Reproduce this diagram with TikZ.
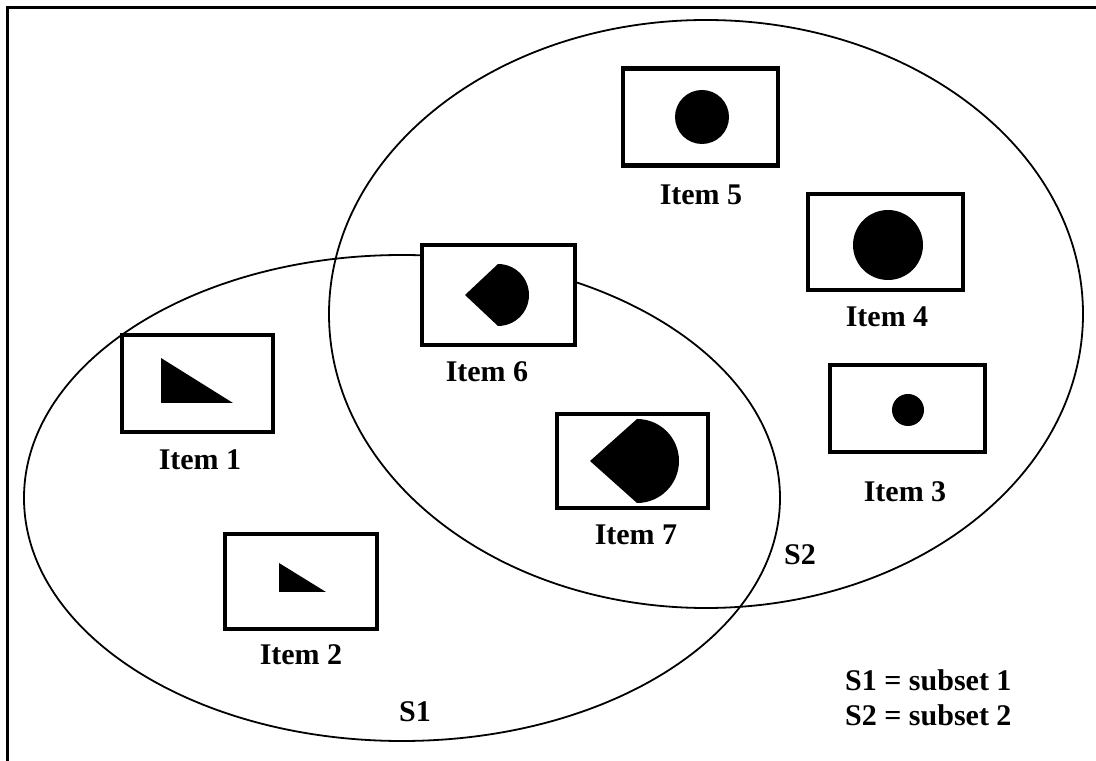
\documentclass[tikz,border=0pt]{standalone}
\usepackage{fontspec}
\setmainfont{Liberation Serif}
\begin{document}
\begin{tikzpicture}[x=1pt,y=1pt,
  itembox/.style={draw,fill=white,line width=4.5pt,minimum width=#1,inner sep=0pt},
  lbl/.style={font=\fontsize{30}{34}\selectfont\bfseries,inner sep=0pt},
  dot/.style={circle,fill=black,inner sep=0pt,minimum size=#1},
  setline/.style={line width=1.8pt}]
\useasboundingbox (0,0) rectangle (1096,761);
\begin{scope}
\clip (0,0) rectangle (1096,761);
% outer frame
\draw[line width=3pt] (7,-20) -- (7,753) -- (1120,753);
\end{scope}

% the two subsets
\draw[setline] (402,263) ellipse [x radius=378, y radius=243];
\draw[setline] (706,447) ellipse [x radius=377, y radius=294];

% item boxes
\node[itembox=151pt,minimum height=97pt] (b1) at (197.5,377.5) {};
\node[itembox=152pt,minimum height=95pt] (b2) at (301,179.5) {};
\node[itembox=153pt,minimum height=100pt] (b6) at (498.5,466) {};
\node[itembox=151pt,minimum height=94pt] (b7) at (632.5,300) {};
\node[itembox=155pt,minimum height=97pt] (b5) at (700.5,644) {};
\node[itembox=155pt,minimum height=96pt] (b4) at (885.5,519) {};
\node[itembox=155pt,minimum height=87pt] (b3) at (907.5,352.5) {};

% glyphs inside the boxes
\fill (161,403) -- (161,358) -- (233,358) -- cycle;
\fill (279,198) -- (279,169) -- (326,169) -- cycle;
\fill (465,466) -- (498,497) arc[start angle=90,end angle=-90,radius=31] -- cycle;
\fill (590,300) -- (637,342) arc[start angle=90,end angle=-90,radius=42] -- cycle;
\node[dot=54pt] (d5) at (702,644) {};
\node[dot=70pt] (d4) at (888,516) {};
\node[dot=32pt] (d3) at (908,351) {};

% labels
\node[lbl] (l1) at (200,301) {Item 1};
\node[lbl] (l2) at (301,106) {Item 2};
\node[lbl] (l6) at (487,389) {Item 6};
\node[lbl] (l7) at (636,226) {Item 7};
\node[lbl] (l5) at (701,566) {Item 5};
\node[lbl] (l4) at (887,444) {Item 4};
\node[lbl] (l3) at (905,269) {Item 3};
\node[lbl] (s1) at (415,49) {S1};
\node[lbl] (s2) at (800,206) {S2};
\node[lbl,anchor=west] (k1) at (845,81) {S1 = subset 1};
\node[lbl,anchor=west] (k2) at (845,46) {S2 = subset 2};
\end{tikzpicture}
\end{document}
